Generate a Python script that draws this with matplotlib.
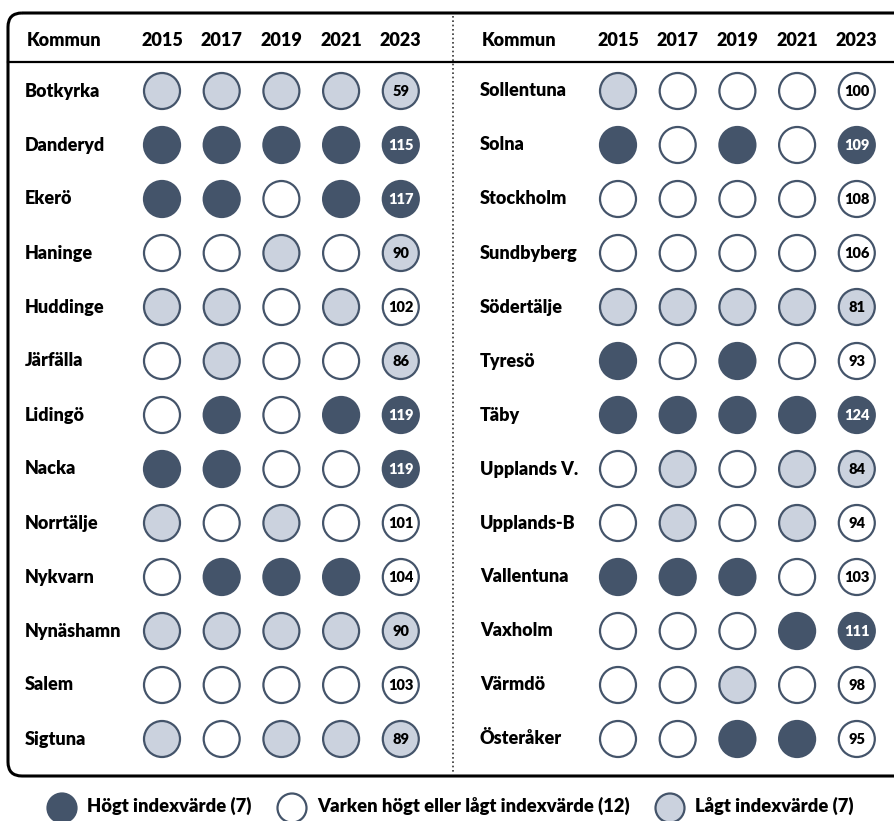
"""
Kommuner – indexvärde per år (punkttabell)
"""
import matplotlib.pyplot as plt
from matplotlib.patches import Circle, FancyBboxPatch

plt.rcParams['font.family'] = ['Lato', 'DejaVu Sans']

years = ['2015', '2017', '2019', '2021', '2023']

left_names = ['Botkyrka', 'Danderyd', 'Ekerö', 'Haninge', 'Huddinge', 'Järfälla',
              'Lidingö', 'Nacka', 'Norrtälje', 'Nykvarn', 'Nynäshamn', 'Salem', 'Sigtuna']
left_status = ['LLLLL', 'HHHHH', 'HHNHH', 'NNLNL', 'LLNLN', 'NLNNL',
               'NHNHH', 'HHNNH', 'LNLNN', 'NHHHN', 'LLLLL', 'NNNNN', 'LNLLL']
left_2023 = [59, 115, 117, 90, 102, 86, 119, 119, 101, 104, 90, 103, 89]

right_names = ['Sollentuna', 'Solna', 'Stockholm', 'Sundbyberg', 'Södertälje', 'Tyresö',
               'Täby', 'Upplands V.', 'Upplands-B', 'Vallentuna', 'Vaxholm', 'Värmdö', 'Österåker']
right_status = ['LNNNN', 'HNHNH', 'NNNNN', 'NNNNN', 'LLLLL', 'HNHNN',
                'HHHHH', 'NLNLL', 'NLNLN', 'HHHNN', 'NNNHH', 'NNLNN', 'NNHHN']
right_2023 = [100, 109, 108, 106, 81, 93, 124, 84, 94, 103, 111, 98, 95]

legend_labels = ['Högt indexvärde (7)', 'Varken högt eller lågt indexvärde (12)', 'Lågt indexvärde (7)']

DARK = '#44546A'
LIGHT = '#CBD2DE'
FILL = {'H': DARK, 'N': 'white', 'L': LIGHT}

W, H = 894, 821
fig = plt.figure(figsize=(W / 100, H / 100), dpi=100)
ax = fig.add_axes([0, 0, 1, 1])
ax.set_xlim(0, W)
ax.set_ylim(H, 0)
ax.axis('off')

# ram, rubrikrad och mittlinje
ax.add_patch(FancyBboxPatch((8, 13), 930, 763, boxstyle='round,pad=0,rounding_size=14',
                            fc='none', ec='black', lw=2.2))
ax.plot([8, W], [62, 62], color='black', lw=1.6)
ax.plot([453, 453], [16, 774], color='#333333', lw=1.2, ls=(0, (1, 1.6)))

row0, row_step = 91, 54
col_step = 59.7
r = 18
fs = 13
fw = 'heavy'


def draw_table(x_name, x0, names, status, vals):
    ax.text(x_name + 2, 40, 'Kommun', fontsize=fs, fontweight=fw, va='center', ha='left')
    for j, yr in enumerate(years):
        ax.text(x0 + j * col_step, 40, yr, fontsize=fs, fontweight=fw, va='center', ha='center')
    for i, name in enumerate(names):
        y = row0 + i * row_step
        ax.text(x_name, y, name, fontsize=fs, fontweight=fw, va='center', ha='left')
        for j, s in enumerate(status[i]):
            x = x0 + j * col_step
            ax.add_patch(Circle((x, y), r, fc=FILL[s], ec=DARK, lw=1.6))
        s = status[i][-1]
        ax.text(x0 + 4 * col_step, y + 0.5, str(vals[i]), fontsize=10.5, fontweight=fw,
                va='center', ha='center', color='white' if s == 'H' else 'black')


draw_table(25, 162, left_names, left_status, left_2023)
draw_table(480, 618, right_names, right_status, right_2023)

# teckenförklaring
leg_x = [62, 292, 670]
for k, s in enumerate('HNL'):
    ax.add_patch(Circle((leg_x[k], 808), 14.5, fc=FILL[s], ec=DARK, lw=1.6))
    ax.text(leg_x[k] + 25, 806, legend_labels[k], fontsize=13.2, fontweight=fw,
            va='center', ha='left')

fig.savefig('out.png', dpi=100, facecolor='white')
plt.close()
